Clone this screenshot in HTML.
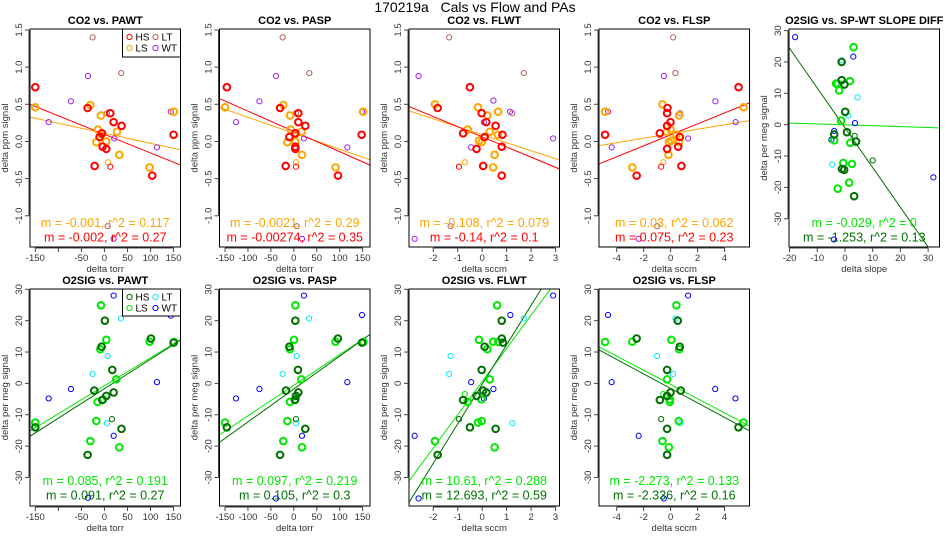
<!DOCTYPE html>
<html><head><meta charset="utf-8">
<style>
html,body{margin:0;padding:0;background:#fff;}
svg{display:block;font-family:"Liberation Sans",Arial,sans-serif;}
</style></head>
<body>
<svg id="chart" width="950" height="550" viewBox="0 0 950 550" xmlns="http://www.w3.org/2000/svg">
<text x="475" y="12" text-anchor="middle" font-size="14" fill="#000" xml:space="preserve" style="white-space:pre">170219a   Cals vs Flow and PAs</text>
</svg>
<script>
// ---- data (x, y pairs per group per panel) ----
const p1HS=[[-150,0.73],[-36.5,0.45],[12.6,0.38],[19.9,0.26],[37.2,0.21],[-5.4,0.11],[-10.5,0.06],[-4,-0.07],[4,-0.10],[-21.3,-0.33],[103.7,-0.46],[150,0.09]];
const p1LS=[[-150,0.46],[-30.7,0.49],[-7.6,0.35],[-14.1,0.16],[-6.9,0.10],[27.1,0.13],[-17.7,-0.01],[4,0.0],[32.2,-0.18],[98,-0.35],[150.7,0.40]];
const p1Thin=[[7.6,-0.28],[12.6,-0.34]];
const p1LT=[[-25.7,1.40],[36.5,0.92],[5.4,0.38],[7,-1.14]];
const p1WT=[[-35.8,0.88],[-72.7,0.54],[-121,0.26],[21.3,0.04],[113.9,-0.08],[144,0.40],[19.9,-1.31]];

const p2HS=[[-146,0.73],[-30,0.45],[9.8,0.38],[9.8,0.26],[25,0.21],[3.3,0.11],[-9.8,0.06],[3.3,-0.07],[3.3,-0.10],[-17.8,-0.33],[96.3,-0.46],[147.8,0.09]];
const p2LS=[[-150,0.46],[-22.9,0.49],[-8.3,0.35],[-6.9,0.16],[3.3,0.10],[17,0.13],[-14,-0.01],[3.3,0.0],[17.8,-0.18],[91,-0.35],[151,0.40]];
const p2Thin=[[4.7,-0.28],[4.7,-0.34]];
const p2LT=[[-24.3,1.40],[33.8,0.92],[4.7,0.38],[6.2,-1.14]];
const p2WT=[[-39,0.88],[-75,0.54],[-126,0.26],[22,0.04],[116.6,-0.08],[148.5,0.40],[17.8,-1.31]];

const p3HS=[[-0.5,0.73],[-1.82,0.45],[-0.02,0.38],[0.17,0.26],[0.55,0.21],[-0.78,0.11],[0.1,0.06],[0.8,-0.07],[-0.23,-0.10],[0.04,-0.33],[0.8,-0.46],[0.83,0.09]];
const p3LS=[[-1.93,0.50],[-0.17,0.46],[0.21,0.35],[-0.59,0.16],[-0.13,0.01],[-0.02,-0.01],[0.31,0.13],[0.64,0.09],[0.65,0.40],[0.51,-0.18],[0.45,-0.35]];
const p3Thin=[[-0.71,-0.28],[-0.95,-0.34]];
const p3LT=[[-1.35,1.40],[1.7,0.92],[1.23,0.38],[-1.29,-1.14]];
const p3WT=[[-2.6,0.88],[0.46,0.55],[1.14,0.40],[0.07,0.26],[-0.45,-0.08],[2.9,0.04],[-2.76,-1.31]];

const p4HS=[[5.04,0.73],[-0.23,0.45],[-0.26,0.38],[-0.01,0.26],[-0.26,0.21],[-0.8,0.11],[0.68,0.06],[-0.26,-0.10],[0.56,-0.07],[0.8,-0.33],[-2.52,-0.46],[-4.86,0.09]];
const p4LS=[[-4.86,0.40],[-0.6,0.50],[0.63,0.35],[-0.3,0.13],[0,0.16],[0.06,0.01],[-0.13,-0.01],[0.43,0.09],[0.63,-0.01],[-0.16,-0.18],[-2.84,-0.35],[5.41,0.46]];
const p4Thin=[[-0.55,-0.28],[-0.7,-0.34]];
const p4LT=[[0.19,1.40],[0.36,0.92],[0.7,0.38],[-1.0,-1.14]];
const p4WT=[[-0.5,0.88],[3.32,0.54],[-4.64,0.40],[4.82,0.26],[1.3,0.04],[-4.37,-0.08],[-2.37,-1.31]];

const p5HS=[[-1.2,20.0],[-1.2,14.2],[-0.2,12.8],[0.1,4.1],[0.7,-2.4],[4,-5.4],[-1.1,-14.1],[-0.3,-14.4],[3.3,-22.8],[-3.9,-3.1]];
const p5LS=[[3.1,24.7],[-3.2,13.1],[-2.7,13.1],[-2.1,10.9],[1.8,13.9],[-1.4,1.3],[1.9,-5.8],[-3.9,-5.0],[-0.6,-12.2],[2.5,-12.5],[1.5,-18.5],[-2.6,-20.4]];
const p5Thin=[[10,-11.4],[3.5,-3.6]];
const p5LT=[[-1.1,20.5],[4.5,8.7],[1.2,2.9],[-4.6,-12.7]];
const p5WT=[[-18,27.9],[3,21.7],[3.6,0.5],[-3.9,-2.0],[-4.9,-4.8],[-4,-36.6],[31.9,-16.8]];

const p6HS=[[-150,-14],[1,20],[-6.1,11.7],[17,4.3],[-22,-2.3],[-4.6,-5.3],[4,-4.0],[20,-2.9],[101,14.3],[150,13],[37,-14.5],[-36.5,-22.8]];
const p6LS=[[-7.6,24.9],[4,13.9],[-9,10.9],[-150,-12.5],[25.6,1.3],[-14.8,-5.9],[-3,-5.1],[98,13.3],[151,13.2],[-17.7,-12.0],[-30.7,-18.4],[32.2,-20.4]];
const p6Thin=[[16.2,-11.4]];
const p6LT=[[35.8,20.7],[7,8.7],[-25.7,3],[5.4,-12.7]];
const p6WT=[[20,28],[144,21.6],[114,0.4],[-72.7,-1.8],[-121,-4.8],[20,-16.7],[-35.8,-36.5]];

const p7HS=[[-146,-14],[3.3,20],[-9.8,11.7],[9,4.3],[-17,-2.3],[4.7,-4.0],[9.8,-2.9],[96,14.3],[148.5,13],[25,-14.5],[-30,-22.8],[2.5,-5.3]];
const p7LS=[[3.3,24.9],[0.4,13.9],[-8.3,10.9],[-150,-12.5],[16.3,1.3],[-8.3,-5.9],[3.3,-5.1],[91,13.3],[151.5,13.2],[-14,-12.0],[-23,-18.4],[17.8,-20.4]];
const p7Thin=[[4.7,-11.4]];
const p7LT=[[33,20.7],[6.2,8.7],[-24.3,3],[4.7,-12.7]];
const p7WT=[[22,28],[148.5,21.8],[116.6,0.4],[-75,-1.8],[-126,-4.8],[17.8,-16.7],[-39,-36.7]];

const p8HS=[[0.8,20],[0.8,14.3],[0.85,13],[0.1,11.7],[-0.02,4.3],[-0.23,-4.0],[0.04,-2.3],[0.17,-2.9],[-0.78,-5.3],[-0.5,-14.0],[0.55,-14.5],[-1.82,-22.8]];
const p8LS=[[0.61,24.9],[-0.13,13.9],[0.45,13.3],[0.66,13.2],[0.21,10.9],[0.31,1.3],[-0.59,-5.9],[-0.03,-5.1],[-0.17,-12.5],[-0.02,-12.0],[-1.93,-18.4],[0.51,-20.4]];
const p8Thin=[[-0.95,-11.4]];
const p8ThinLS=[[-0.71,-3.4]];
const p8LT=[[1.7,20.7],[-1.29,8.7],[-1.35,3],[1.23,-12.7]];
const p8WT=[[2.9,28],[1.15,21.8],[-0.45,0.4],[0.46,-1.8],[0.07,-4.8],[-2.76,-16.7],[-2.6,-36.7]];

const p9HS=[[0.53,20],[-2.52,14.3],[0.68,11.7],[-0.26,4.3],[-0.8,-5.3],[-0.01,-2.9],[-0.26,-4.0],[0.75,-2.3],[5.03,-14.0],[-0.26,-14.5],[-0.26,-22.8]];
const p9LS=[[0.43,24.9],[0.06,13.9],[-4.86,13.2],[-2.84,13.3],[0.63,10.9],[-0.26,1.3],[-0.06,-5.1],[-0.06,-5.9],[0.6,-12.0],[5.4,-12.5],[-0.6,-18.4],[-0.13,-20.4]];
const p9Thin=[[-0.7,-11.4]];
const p9ThinLS=[[-0.55,-3.4]];
const p9LT=[[0.36,20.7],[-1.0,8.7],[0.18,3.0],[0.7,-12.7]];
const p9WT=[[1.3,28],[-4.64,21.8],[-4.37,0.4],[3.31,-1.8],[4.81,-4.8],[-2.37,-16.7],[-0.5,-36.7]];

// regression fits: [intercept, slope]
const fitP1=[[0.11,-0.00135],[0.095,-0.0025]];
const fitP2=[[0.11,-0.00215],[0.135,-0.00273]];
const fitP3=[[0.09,-0.1075],[0.062,-0.1368]];
const fitP4=[[0.104,0.0301],[0.089,0.0737]];
const fitP5=[[-0.06,-0.0277],[-1.0,-1.267]];
const fitP6=[[-0.75,0.0893],[-1.7,0.0939]];
const fitP7=[[-0.6,0.0975],[-1.8,0.1049]];
const fitP8=[[0.56,10.59],[-0.3,12.6]];
const fitP9=[[-0.35,-2.264],[-1.6,-2.309]];

const annP1=["m = -0.001, r^2 = 0.117","m = -0.002, r^2 = 0.27"];
const annP2=["m = -0.0021, r^2 = 0.29","m = -0.00274, r^2 = 0.35"];
const annP3=["m = -0.108, r^2 = 0.079","m = -0.14, r^2 = 0.1"];
const annP4=["m = 0.03, r^2 = 0.062","m = 0.075, r^2 = 0.23"];
const annP5=["m = -0.029, r^2 = 0","m = -1.253, r^2 = 0.13"];
const annP6=["m = 0.085, r^2 = 0.191","m = 0.091, r^2 = 0.27"];
const annP7=["m = 0.097, r^2 = 0.219","m = 0.105, r^2 = 0.3"];
const annP8=["m = 10.61, r^2 = 0.288","m = 12.693, r^2 = 0.59"];
const annP9=["m = -2.273, r^2 = 0.133","m = -2.336, r^2 = 0.16"];

const torrTicks=[-150,-100,-50,0,50,100,150];
const sccmWtTicks=[-2,-1,0,1,2,3];
const sccmSpTicks=[-4,-2,0,2,4];
const slopeTicks=[-20,-10,0,10,20,30];
const co2Ticks=[-1.0,-0.5,0.0,0.5,1.0,1.5];
const o2Ticks=[-30,-20,-10,0,10,20,30];

const NS="http://www.w3.org/2000/svg";
const svg=document.getElementById('chart');
function mk(tag,attrs,parent){const e=document.createElementNS(NS,tag);for(const k in attrs)e.setAttribute(k,attrs[k]);(parent||svg).appendChild(e);return e;}

const CO2C={HS:"#ff0000",LS:"#ffa500",LT:"#b5605a",WT:"#a020f0",tA:"#ffa500",tB:"#ff0000"};
const O2C={HS:"#007000",LS:"#00e800",LT:"#00e8ff",WT:"#0000ff",tA:"#00e800",tB:"#007000"};
const lefts=[30,219.5,409,599,789];
const W=150.5;
const panels=[
 {id:"co2-pawt",title:"CO2 vs. PAWT",col:0,row:0,xr:[-161.5,165],yr:[-1.42,1.513],xt:torrTicks,hide:[-100],yt:co2Ticks,xl:"delta torr",yl:"delta ppm signal",c:CO2C,g:{HS:p1HS,LS:p1LS,LT:p1LT,WT:p1WT},thin:[[p1Thin[0],"LS"],[p1Thin[1],"HS"]],fit:fitP1,ann:annP1,legend:true},
 {id:"co2-pasp",title:"CO2 vs. PASP",col:1,row:0,xr:[-162,166],yr:[-1.42,1.513],xt:torrTicks,hide:[],yt:co2Ticks,xl:"delta torr",yl:"delta ppm signal",c:CO2C,g:{HS:p2HS,LS:p2LS,LT:p2LT,WT:p2WT},thin:[[p2Thin[0],"LS"],[p2Thin[1],"HS"]],fit:fitP2,ann:annP2},
 {id:"co2-flwt",title:"CO2 vs. FLWT",col:2,row:0,xr:[-2.99,3.16],yr:[-1.42,1.513],xt:sccmWtTicks,hide:[],yt:co2Ticks,xl:"delta sccm",yl:"delta ppm signal",c:CO2C,g:{HS:p3HS,LS:p3LS,LT:p3LT,WT:p3WT},thin:[[p3Thin[0],"LS"],[p3Thin[1],"HS"]],fit:fitP3,ann:annP3},
 {id:"co2-flsp",title:"CO2 vs. FLSP",col:3,row:0,xr:[-5.31,5.85],yr:[-1.42,1.513],xt:sccmSpTicks,hide:[],yt:co2Ticks,xl:"delta sccm",yl:"delta ppm signal",c:CO2C,g:{HS:p4HS,LS:p4LS,LT:p4LT,WT:p4WT},thin:[[p4Thin[0],"LS"],[p4Thin[1],"HS"]],fit:fitP4,ann:annP4},
 {id:"o2-slope-diff",title:"O2SIG vs. SP-WT SLOPE DIFF",col:4,row:0,xr:[-20.2,34.1],yr:[-39.0,30.5],xt:slopeTicks,hide:[],yt:o2Ticks,xl:"delta slope",yl:"delta per meg signal",c:O2C,g:{HS:p5HS,LS:p5LS,LT:p5LT,WT:p5WT},thin:[[p5Thin[0],"HS"],[p5Thin[1],"HS"]],fit:fitP5,ann:annP5},
 {id:"o2-pawt",title:"O2SIG vs. PAWT",col:0,row:1,xr:[-161.5,165],yr:[-39.1,30.1],xt:torrTicks,hide:[-100],yt:o2Ticks,xl:"delta torr",yl:"delta per meg signal",c:O2C,g:{HS:p6HS,LS:p6LS,LT:p6LT,WT:p6WT},thin:[[p6Thin[0],"HS"]],fit:fitP6,ann:annP6,legend:true},
 {id:"o2-pasp",title:"O2SIG vs. PASP",col:1,row:1,xr:[-162,166],yr:[-39.1,30.1],xt:torrTicks,hide:[],yt:o2Ticks,xl:"delta torr",yl:"delta per meg signal",c:O2C,g:{HS:p7HS,LS:p7LS,LT:p7LT,WT:p7WT},thin:[[p7Thin[0],"HS"]],fit:fitP7,ann:annP7},
 {id:"o2-flwt",title:"O2SIG vs. FLWT",col:2,row:1,xr:[-2.99,3.16],yr:[-39.1,30.1],xt:sccmWtTicks,hide:[],yt:o2Ticks,xl:"delta sccm",yl:"delta per meg signal",c:O2C,g:{HS:p8HS,LS:p8LS,LT:p8LT,WT:p8WT},thin:[[p8Thin[0],"HS"],[p8ThinLS[0],"LS"]],fit:fitP8,ann:annP8},
 {id:"o2-flsp",title:"O2SIG vs. FLSP",col:3,row:1,xr:[-5.31,5.85],yr:[-39.1,30.1],xt:sccmSpTicks,hide:[],yt:o2Ticks,xl:"delta sccm",yl:"delta per meg signal",c:O2C,g:{HS:p9HS,LS:p9LS,LT:p9LT,WT:p9WT},thin:[[p9Thin[0],"HS"],[p9ThinLS[0],"LS"]],fit:fitP9,ann:annP9}
];

panels.forEach((p,pi)=>{
  const L=lefts[p.col], T=p.row?289:29, B=p.row?506:247, R=L+W;
  const sx=v=>L+(v-p.xr[0])/(p.xr[1]-p.xr[0])*W;
  const sy=v=>B-(v-p.yr[0])/(p.yr[1]-p.yr[0])*(B-T);
  const g=mk('g',{});
  
  
  const cp=mk('clipPath',{id:'clip'+pi},g);
  mk('rect',{x:L,y:T,width:W,height:B-T},cp);
  const t=mk('text',{x:L+W/2,y:T-5,'text-anchor':'middle','font-size':'11','font-weight':'bold',fill:'#000'},g);
  t.textContent=p.title;
  
  
  const xa=mk('g',{},g);
  
  
  const xs=p.xt.map(sx);
  mk('line',{x1:xs[0],x2:xs[xs.length-1],y1:B+1,y2:B+1,stroke:'#444','stroke-width':1},xa);
  p.xt.forEach(v=>{
    const x=sx(v);
    mk('line',{x1:x,x2:x,y1:B+1,y2:B+5,stroke:'#444','stroke-width':1},xa);
    if(p.hide.indexOf(v)<0){
      const tl=mk('text',{x:x,y:B+14,'text-anchor':'middle','font-size':'9.5',fill:'#333'},xa);
      tl.textContent=String(v);
      
      
    }
  });
  const xt=mk('text',{x:L+W/2,y:B+25,'text-anchor':'middle','font-size':'9.5',fill:'#333'},g);
  xt.textContent=p.xl;
  
  
  const ya=mk('g',{},g);
  
  
  const ys=p.yt.map(sy);
  mk('line',{x1:L-1,x2:L-1,y1:ys[0],y2:ys[ys.length-1],stroke:'#444','stroke-width':1},ya);
  p.yt.forEach(v=>{
    const y=sy(v);
    mk('line',{x1:L-1,x2:L-5,y1:y,y2:y,stroke:'#444','stroke-width':1},ya);
    const tl=mk('text',{x:L-8,y:y,'text-anchor':'middle','font-size':'9.5',fill:'#333',transform:`rotate(-90 ${L-8} ${y})`},ya);
    tl.textContent=(p.row===0&&p.col<4)?v.toFixed(1):String(v);
    
    
  });
  const yc=(T+B)/2;
  const yt=mk('text',{x:L-22,y:yc,'text-anchor':'middle','font-size':'9.5',fill:'#333',transform:`rotate(-90 ${L-22} ${yc})`},g);
  yt.textContent=p.yl;
  
  
  const fg=mk('g',{'clip-path':`url(#clip${pi})`},g);
  
  
  [p.c.tA,p.c.tB].forEach((col,i)=>{
    const [b,m]=p.fit[i];
    const ln=mk('line',{x1:sx(p.xr[0]),y1:sy(b+m*p.xr[0]),x2:sx(p.xr[1]),y2:sy(b+m*p.xr[1]),stroke:col,'stroke-width':1},fg);
    
    
  });
  const pg=mk('g',{'clip-path':`url(#clip${pi})`,fill:'none'},g);
  
  
  ['LT','WT'].forEach(k=>p.g[k].forEach(d=>{
    const c=mk('circle',{cx:sx(d[0]),cy:sy(d[1]),r:2.6,stroke:p.c[k],'stroke-width':1},pg);
    
    
  }));
  p.thin.forEach(([d,k])=>{
    const c=mk('circle',{cx:sx(d[0]),cy:sy(d[1]),r:2.6,stroke:p.c[k],'stroke-width':1},pg);
    
    
  });
  ['LS','HS'].forEach(k=>p.g[k].forEach(d=>{
    const c=mk('circle',{cx:sx(d[0]),cy:sy(d[1]),r:3.3,stroke:p.c[k],'stroke-width':2},pg);
    
    
  }));
  const bx=mk('rect',{x:L,y:T,width:W,height:B-T,fill:'none',stroke:'#000','stroke-width':1},g);
  
  
  [p.c.tA,p.c.tB].forEach((col,i)=>{
    const ay=(p.row?481:223)+i*14.5;
    const a=mk('text',{x:L+W/2,y:ay+4,'text-anchor':'middle','font-size':'12.5',fill:col},g);
    a.textContent=p.ann[i];
    
    
  });
  if(p.legend){
    const lg=mk('g',{},g);
    
    
    const lt=T, lb=T+(p.row?27:28);
    mk('rect',{x:R-58,y:lt,width:58,height:lb-lt,fill:'#fff',stroke:'#000','stroke-width':1},lg);
    const ents=[['HS',R-51,lt+8],['LT',R-25,lt+8],['LS',R-51,lt+19],['WT',R-25,lt+19]];
    ents.forEach(([k,x,y])=>{
      const e=mk('g',{},lg);
      
      
      mk('circle',{cx:x,cy:y,r:2.6,fill:'none',stroke:p.c[k],'stroke-width':1},e);
      const tx=mk('text',{x:x+6,y:y+3.5,'font-size':'10',fill:'#000'},e);
      tx.textContent=k;
    });
  }
});
</script>
</body></html>
